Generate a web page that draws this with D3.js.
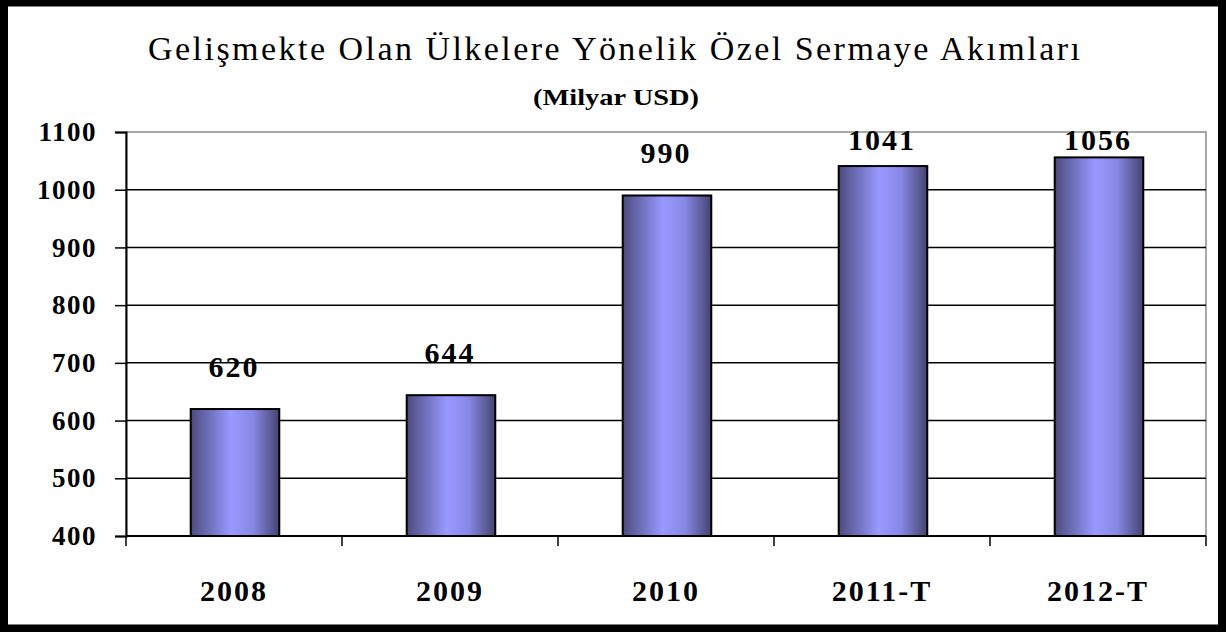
<!DOCTYPE html>
<html>
<head>
<meta charset="utf-8">
<script src="https://cdn.jsdelivr.net/npm/d3@7"></script>
<style>
  body { margin: 0; background: #fff; }
  svg { display: block; }
  text { fill: #000; }
</style>
</head>
<body>
<div id="chart"></div>
<script>
'use strict';

/**** DATA ****/
var years = ["2008", "2009", "2010", "2011-T", "2012-T"];
var flows = [620, 644, 990, 1041, 1056];
var yTicks = [400, 500, 600, 700, 800, 900, 1000, 1100];
var titleText = "Gelişmekte Olan Ülkelere Yönelik Özel Sermaye Akımları";
var subTitleText = "(Milyar USD)";

var FONT = "'Liberation Serif', 'DejaVu Serif', serif";
var width = 1226, height = 632;
var margin = { top: 132, right: 20, bottom: 96, left: 126 };

var svg = d3.select("#chart").append("svg")
  .attr("width", width)
  .attr("height", height)
  .style("font-family", FONT);

// bar gradient (dark edges, light centre)
var grad = svg.append("defs").append("linearGradient")
  .attr("id", "barGrad")
  .attr("x1", "0%").attr("x2", "100%")
  .attr("y1", "0%").attr("y2", "0%");
grad.append("stop").attr("offset", "0%").attr("stop-color", "#4b4b80");
grad.append("stop").attr("offset", "45%").attr("stop-color", "#9999ff");
grad.append("stop").attr("offset", "70%").attr("stop-color", "#8888e6");
grad.append("stop").attr("offset", "100%").attr("stop-color", "#444470");

// scales
var x = d3.scaleBand()
  .domain(years)
  .range([margin.left, width - margin.right])
  .padding(0);

var y = d3.scaleLinear()
  .domain([400, 1100])
  .range([height - margin.bottom, margin.top]);

var plotRight = width - margin.right;
var plotTop = y(1100), plotBottom = y(400);

// plot area border (gray)
svg.append("rect")
  .attr("x", margin.left)
  .attr("y", plotTop)
  .attr("width", plotRight - margin.left)
  .attr("height", plotBottom - plotTop)
  .attr("fill", "none")
  .attr("stroke", "#8c8c8c")
  .attr("stroke-width", 1.5);

// gridlines
svg.append("g").selectAll("line")
  .data(yTicks.filter(function(d) { return d !== 1100; }))
  .enter().append("line")
  .attr("x1", margin.left).attr("x2", plotRight)
  .attr("y1", function(d) { return y(d); })
  .attr("y2", function(d) { return y(d); })
  .attr("stroke", "#000")
  .attr("stroke-width", 1.5);

// y axis
var yAxis = svg.append("g")
  .attr("transform", "translate(" + margin.left + ",0)")
  .call(d3.axisLeft(y).tickValues(yTicks).tickSize(11).tickPadding(18).tickFormat(d3.format("d")));
yAxis.attr("font-family", null).attr("font-size", null);
yAxis.select(".domain").attr("stroke", "#000").attr("stroke-width", 2);
yAxis.selectAll(".tick line").attr("stroke", "#000").attr("stroke-width", 1.5);
yAxis.selectAll(".tick text")
  .style("font-family", FONT)
  .attr("font-size", 27)
  .attr("font-weight", "bold")
  .attr("letter-spacing", 1.5);

// x axis (ticks between categories)
var boundaries = years.map(function(d) { return x(d); }).concat([plotRight]);
svg.append("g").selectAll("line")
  .data(boundaries)
  .enter().append("line")
  .attr("x1", function(d) { return d; }).attr("x2", function(d) { return d; })
  .attr("y1", plotBottom).attr("y2", plotBottom + 10)
  .attr("stroke", "#000")
  .attr("stroke-width", 1.5);
svg.append("line")
  .attr("x1", margin.left).attr("x2", plotRight)
  .attr("y1", plotBottom).attr("y2", plotBottom)
  .attr("stroke", "#000")
  .attr("stroke-width", 2);

svg.append("g").selectAll("text")
  .data(years)
  .enter().append("text")
  .attr("x", function(d) { return x(d) + x.bandwidth() / 2; })
  .attr("y", plotBottom + 65)
  .attr("text-anchor", "middle")
  .attr("font-size", 30)
  .attr("font-weight", "bold")
  .attr("letter-spacing", 2)
  .text(function(d) { return d; });

// bars
var barW = x.bandwidth() * 0.41;
svg.append("g").selectAll("rect")
  .data(flows)
  .enter().append("rect")
  .attr("x", function(d, i) { return x(years[i]) + x.bandwidth() / 2 - barW / 2 + 1; })
  .attr("y", function(d) { return y(d); })
  .attr("width", barW)
  .attr("height", function(d) { return plotBottom - y(d); })
  .attr("fill", "url(#barGrad)")
  .attr("stroke", "#000")
  .attr("stroke-width", 2);

// value labels
svg.append("g").selectAll("text")
  .data(flows)
  .enter().append("text")
  .attr("x", function(d, i) { return x(years[i]) + x.bandwidth() / 2; })
  .attr("y", function(d) { return Math.max(y(d) - 32, plotTop + 18); })
  .attr("text-anchor", "middle")
  .attr("font-size", 30)
  .attr("font-weight", "bold")
  .attr("letter-spacing", 2)
  .text(function(d) { return d; });

// titles
svg.append("text")
  .attr("x", 614)
  .attr("y", 60)
  .attr("text-anchor", "middle")
  .attr("font-size", 34)
  .attr("textLength", 932)
  .attr("lengthAdjust", "spacing")
  .text(titleText);

svg.append("text")
  .attr("x", 616)
  .attr("y", 105)
  .attr("text-anchor", "middle")
  .attr("font-size", 24)
  .attr("font-weight", "bold")
  .attr("textLength", 166)
  .attr("lengthAdjust", "spacingAndGlyphs")
  .text(subTitleText);

// outer frame
svg.append("rect")
  .attr("x", 4).attr("y", 2.5)
  .attr("width", width - 8).attr("height", height - 6)
  .attr("fill", "none")
  .attr("stroke", "#000")
  .attr("stroke-width", 8);
</script>
</body>
</html>
